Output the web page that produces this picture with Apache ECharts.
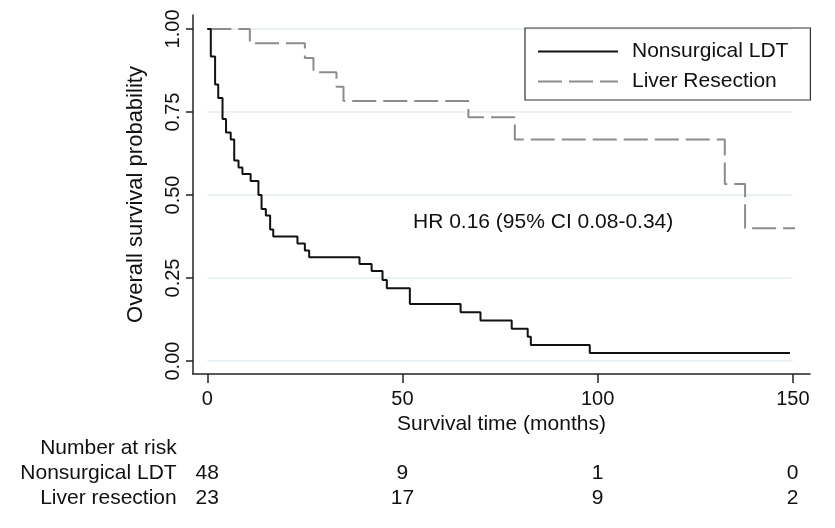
<!DOCTYPE html>
<html><head><meta charset="utf-8">
<script src="https://cdn.jsdelivr.net/npm/echarts@6/dist/echarts.min.js"></script>
<style>html,body{margin:0;padding:0;background:#fff}#c{width:835px;height:528px}</style>
</head><body><div id="c"></div>
<script>
// ---- data ----
const seriesNames = ['Nonsurgical LDT', 'Liver Resection'];
const ldtTime = [0, 0.9, 2, 2.8, 3.9, 4.8, 6, 6.9, 8, 9, 11.1, 13.1, 13.9, 15, 16.1, 16.9, 23.1, 25, 26.1, 39, 42.1, 44.9, 46, 51.9, 64.9, 70, 78, 82.1, 82.9, 98, 149.3];
const ldtSurv = [1, 0.917, 0.833, 0.792, 0.729, 0.688, 0.667, 0.604, 0.583, 0.563, 0.542, 0.5, 0.458, 0.438, 0.396, 0.375, 0.354, 0.333, 0.3125, 0.292, 0.271, 0.244, 0.219, 0.172, 0.147, 0.122, 0.097, 0.073, 0.048, 0.024, 0.024];
const resTime = [0, 10.9, 25, 27.2, 33.1, 34.9, 66.9, 78.8, 132.6, 137.8, 151];
const resSurv = [1, 0.957, 0.913, 0.870, 0.826, 0.783, 0.734, 0.667, 0.533, 0.4, 0.4];
const xTickValues = [0, 50, 100, 150];
const yTickValues = [0, 0.25, 0.5, 0.75, 1];
const riskTimes = [0, 50, 100, 150];
const riskLDT = [48, 9, 1, 0];
const riskRes = [23, 17, 9, 2];
const riskRows = ['Liver resection', 'Nonsurgical LDT', 'Number at risk'];
const hrText = 'HR 0.16 (95% CI 0.08-0.34)';
const xTitle = 'Survival time (months)';
const yTitle = 'Overall survival probability';

// ---- chart ----
const FONT = '"Liberation Sans", Arial, Helvetica, sans-serif';
const TXT = '#111';
const AX = '#222';
const chart = echarts.init(document.getElementById('c'));
const zip = (a, b) => a.map((v, i) => [v, b[i]]);

// frame axes extend a little beyond the data range (short decimals)
const frameXMin = -3.66, frameXMax = 154.4;
const frameYMin = -0.039, frameYMax = 1.042;

const riskData = []
  .concat(riskTimes.map((t, i) => [t, 1, riskLDT[i]]))
  .concat(riskTimes.map((t, i) => [t, 0, riskRes[i]]));

chart.setOption({
  animation: false,
  grid: [
    {left: 207.3, right: 42.3, top: 29, bottom: 167},
    {left: 193, right: 25, top: 15, bottom: 154},
    {left: 207.3, right: 42.3, top: 435.5, height: 75}
  ],
  xAxis: [
    {gridIndex: 0, type: 'value', min: 0, max: 150, interval: 50,
     axisLine: {show: false}, axisTick: {show: false}, axisLabel: {show: false}, splitLine: {show: false}},
    {gridIndex: 1, type: 'value', min: frameXMin, max: frameXMax,
     axisLine: {show: true, onZero: false, lineStyle: {color: AX, width: 1.5}},
     axisTick: {show: true, length: 9, customValues: xTickValues, lineStyle: {color: AX, width: 1.5}},
     axisLabel: {show: true, customValues: xTickValues, margin: 15, fontSize: 20, color: TXT, fontFamily: FONT},
     splitLine: {show: false},
     name: xTitle, nameLocation: 'middle', nameGap: 37,
     nameTextStyle: {fontSize: 21, color: TXT, fontFamily: FONT}},
    {gridIndex: 2, type: 'value', min: 0, max: 150, show: false}
  ],
  yAxis: [
    {gridIndex: 0, type: 'value', min: 0, max: 1, interval: 0.25,
     axisLine: {show: false}, axisTick: {show: false}, axisLabel: {show: false},
     splitLine: {show: true, lineStyle: {color: '#e3eef2', width: 1.5}}},
    {gridIndex: 1, type: 'value', min: frameYMin, max: frameYMax,
     axisLine: {show: true, onZero: false, lineStyle: {color: AX, width: 1.5}},
     axisTick: {show: true, length: 7, customValues: yTickValues, lineStyle: {color: AX, width: 1.5}},
     axisLabel: {show: true, customValues: yTickValues, margin: 10, fontSize: 20, rotate: 90,
                 color: TXT, fontFamily: FONT, formatter: v => v.toFixed(2)},
     splitLine: {show: false},
     name: yTitle, nameLocation: 'middle', nameRotate: 90, nameGap: 46,
     nameTextStyle: {fontSize: 22, color: TXT, fontFamily: FONT}},
    {gridIndex: 2, type: 'category', data: riskRows,
     axisLine: {show: false}, axisTick: {show: false}, splitLine: {show: false},
     axisLabel: {interval: 0, margin: 30.6, fontSize: 21, color: TXT, fontFamily: FONT, align: 'right'}}
  ],
  legend: {
    data: seriesNames,
    orient: 'vertical', left: 525, top: 28,
    padding: [13, 22, 8, 12],
    itemWidth: 80, itemHeight: 21, itemGap: 9,
    itemStyle: {opacity: 0},
    borderColor: '#333', borderWidth: 1.2, borderRadius: 0,
    textStyle: {fontSize: 21, color: TXT, fontFamily: FONT, padding: [0, 0, 0, 9]}
  },
  graphic: [
    {type: 'text', left: 413, top: 212,
     style: {text: hrText, fontSize: 21, fill: TXT, fontFamily: FONT}}
  ],
  series: [
    {name: seriesNames[0], type: 'line', xAxisIndex: 0, yAxisIndex: 0,
     step: 'end', symbol: 'none', clip: false,
     lineStyle: {color: '#111', width: 2}, itemStyle: {color: '#111'},
     data: zip(ldtTime, ldtSurv), z: 3},
    {name: seriesNames[1], type: 'line', xAxisIndex: 0, yAxisIndex: 0,
     step: 'end', symbol: 'none', clip: false,
     lineStyle: {color: '#8c8c8c', width: 2, type: [24, 7]}, itemStyle: {color: '#8c8c8c'},
     data: zip(resTime, resSurv), z: 2},
    {name: 'risk', type: 'custom', xAxisIndex: 2, yAxisIndex: 2, clip: false, silent: true,
     encode: {x: 0, y: 1}, data: riskData,
     renderItem: (params, api) => {
       const p = api.coord([api.value(0), api.value(1)]);
       return {type: 'text', x: p[0], y: p[1],
               style: {text: String(api.value(2)), fill: TXT, fontSize: 21, fontFamily: FONT,
                       align: 'center', verticalAlign: 'middle'}};
     }}
  ]
});
</script>
</body></html>
